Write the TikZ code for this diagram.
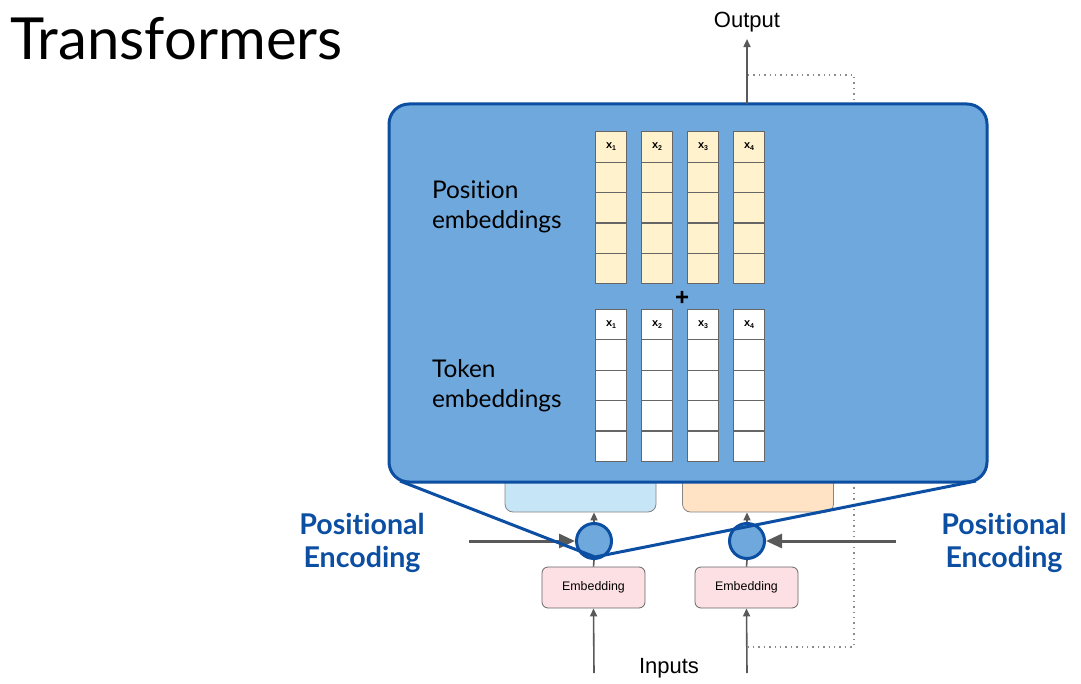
\documentclass[tikz,border=0pt]{standalone}
\usepackage{fontspec}
\setmainfont{Lato}[Ligatures=NoCommon]
\newfontfamily\arial{Liberation Sans}
\usetikzlibrary{positioning,arrows.meta}
\definecolor{boxblue}{HTML}{6FA8DC}
\definecolor{edgeblue}{HTML}{0B4EA2}
\definecolor{lightblue}{HTML}{C6E6F7}
\definecolor{lightorange}{HTML}{FFE3C4}
\definecolor{cellyellow}{HTML}{FFF2CC}
\definecolor{pinkbox}{HTML}{FCE0E3}
\definecolor{cellgray}{HTML}{666666}
\definecolor{arrowgray}{HTML}{595959}
\begin{document}
\begin{tikzpicture}[x=0.5pt, y=-0.5pt,
		cell/.style={draw=cellgray, line width=0.6pt, minimum width=15.5pt, minimum height=15.2pt, inner sep=0pt, outer sep=0pt},
		poscell/.style={cell, fill=cellyellow},
		tokcell/.style={cell, fill=white},
		xlabel/.style={font=\arial\bfseries\fontsize{5.5}{6}\selectfont},
		embbox/.style={draw=cellgray, fill=pinkbox, rounded corners=3pt, minimum width=51.5pt, minimum height=20.5pt, inner sep=0pt, font=\arial\fontsize{6.2}{7}\selectfont},
		lightbox/.style={draw=cellgray!80, rounded corners=4pt, minimum width=75.5pt, minimum height=26pt, inner sep=0pt},
		sumnode/.style={circle, draw=edgeblue, line width=1.5pt, fill=boxblue, minimum size=17.5pt, inner sep=0pt},
		grayarrow/.style={draw=arrowgray, line width=0.8pt, -{Triangle[length=4pt,width=3.5pt]}},
		bigarrow/.style={draw=arrowgray, line width=1.5pt, -{Triangle[length=8pt,width=7pt]}},
		blueline/.style={draw=edgeblue, line width=1.5pt},
		pelabel/.style={text=edgeblue, font=\bfseries\fontsize{14.3}{16.7}\selectfont, align=center},
		embtext/.style={anchor=west, align=left, font=\fontsize{12.2}{15}\selectfont},
	]
		\useasboundingbox (0,0) rectangle (1081,684);
		\coordinate (dotA) at (748,75);
		\coordinate (dotB) at (854,75);
		\coordinate (dotC) at (854,647);
		\coordinate (dotD) at (748,647);
		\coordinate (cornerL) at (400,481);
		\coordinate (cornerR) at (976,481);
		\coordinate (apex) at (595,557);
		\coordinate (peL) at (469,541);
		\coordinate (peR) at (896,541);
		\coordinate (inL) at (594,673);
		\coordinate (inR) at (747,673);
		\coordinate (outB) at (747,104);
		
		\node[anchor=base west, font=\fontsize{29}{34}\selectfont] (title) at (3,60) {Transformers};
		
		\draw[arrowgray!70, line width=0.7pt, dotted] (dotA) -- (dotB) -- (dotC) -- (dotD);
		
		\node[lightbox, fill=lightblue] (lboxL) at (580.5,486) {};
		\node[lightbox, fill=lightorange] (lboxR) at (758,486) {};
		
		\node[draw=edgeblue, line width=1.5pt, fill=boxblue, rounded corners=10pt, minimum width=299pt, minimum height=189pt] (enc) at (688,293) {};
		
		\foreach \i/\x in {1/611,2/657,3/703,4/749} {
			\foreach \j in {0,...,4} {
				\node[poscell] (pos\i\j) at (\x,147+30.4*\j) {};
				\node[tokcell] (tok\i\j) at (\x,324.5+30.4*\j) {};
			}
			\node[xlabel] at (pos\i0) {x\raisebox{-1pt}{\fontsize{3.5}{4}\selectfont\i}};
			\node[xlabel] at (tok\i0) {x\raisebox{-1pt}{\fontsize{3.5}{4}\selectfont\i}};
		}
		\node[font=\arial\bfseries\fontsize{12}{12}\selectfont] (plus) at (682,298) {+};
		
		\node[embtext] (postext) at (425,207) {Position\\embeddings};
		\node[embtext] (toktext) at (425,386) {Token\\embeddings};
		
		\node[sumnode] (sumL) at (594,541) {};
		\node[sumnode] (sumR) at (747,541) {};
		\node[embbox] (embL) at (593.5,587.5) {\raisebox{-1.2pt}{Embedding}};
		\node[embbox] (embR) at (746.5,587.5) {\raisebox{-1.2pt}{Embedding}};
		
		\node[font=\arial\fontsize{11}{13}\selectfont] (output) at (747,22) {Output};
		\node[font=\arial\fontsize{11}{13}\selectfont] (inputs) at (669,668) {Inputs};
		\node[pelabel] (peLtext) at (362,543) {Positional\\Encoding};
		\node[pelabel] (peRtext) at (1004,543) {Positional\\Encoding};
		
		\draw[grayarrow] (outB) -- (output.south);
		\draw[grayarrow] (sumL.north) -- (sumL |- lboxL.south);
		\draw[grayarrow] (sumR.north) -- (sumR |- lboxR.south);
		\draw[arrowgray, line width=0.8pt] (embL.north) -- (sumL.south);
		\draw[arrowgray, line width=0.8pt] (embR.north) -- (sumR.south);
		\draw[grayarrow] (inL) -- (embL.south);
		\draw[grayarrow] (inR) -- (embR.south);
		\draw[bigarrow] (peL) -- (sumL.west);
		\draw[bigarrow] (peR) -- (sumR.east);
		
		\draw[blueline] (cornerL) -- (apex) -- (cornerR);
	\end{tikzpicture}
\end{document}
